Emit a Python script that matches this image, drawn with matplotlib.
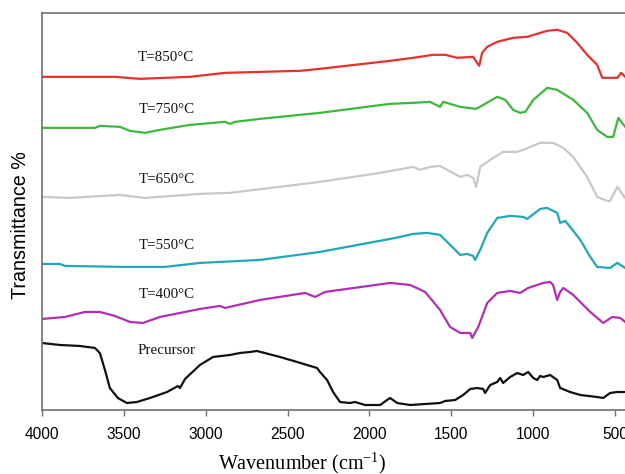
#!/usr/bin/env python3
"""FTIR spectra of the precursor and samples calcined at 400-850 °C (stacked)."""
import matplotlib
matplotlib.use("Agg")
import matplotlib.pyplot as plt

# ─── Data (wavenumber in cm-1, stacked transmittance in arbitrary units) ──
W_850 = [4000, 3554, 3401, 3096, 2882, 2424, 2302, 1874, 1734, 1611, 1538, 1465,
         1367, 1330, 1312, 1281, 1220, 1123, 1037, 976, 915, 854, 793, 732, 671,
         610, 579, 487, 463, 439]
T_850 = [333, 333, 331, 333, 337, 339, 341, 349, 352, 355, 355, 352,
         353, 344, 357, 363, 368, 372, 373, 376, 379, 380, 377, 367, 355,
         345, 332, 332, 337, 333]

W_750 = [4000, 3676, 3646, 3524, 3462, 3371, 3279, 3096, 2882, 2852, 2821, 2668,
         2302, 1874, 1734, 1630, 1569, 1550, 1446, 1355, 1336, 1263, 1220, 1171,
         1123, 1080, 1049, 1000, 915, 854, 756, 671, 610, 549, 512, 481, 439]
T_750 = [282, 282, 284, 283, 279, 277, 280, 285, 288, 286, 288, 291,
         297, 306, 307, 308, 303, 308, 303, 301, 302, 309, 313, 310,
         300, 297, 298, 310, 322, 320, 310, 297, 280, 273, 273, 292, 283]

W_650 = [4000, 3829, 3524, 3371, 3035, 2852, 2302, 1935, 1734, 1691, 1630, 1569,
         1526, 1446, 1404, 1367, 1349, 1324, 1263, 1184, 1098, 1062, 958, 879,
         817, 756, 671, 610, 549, 531, 487, 439]
T_650 = [213, 212, 215, 212, 216, 217, 228, 237, 243, 240, 243, 244,
         240, 233, 235, 232, 223, 243, 250, 258, 258, 260, 267, 267,
         262, 253, 233, 213, 209, 209, 223, 212]

W_550 = [4000, 3890, 3859, 3493, 3249, 3035, 2668, 2302, 1874, 1813, 1734, 1648,
         1569, 1489, 1446, 1404, 1367, 1355, 1324, 1281, 1220, 1141, 1062, 1037,
         958, 915, 854, 836, 805, 775, 713, 652, 610, 531, 487, 439]
T_550 = [146, 146, 144, 143, 143, 147, 150, 158, 171, 173, 176, 177,
         175, 162, 155, 156, 154, 150, 160, 177, 192, 194, 193, 191,
         201, 202, 197, 187, 189, 183, 170, 153, 143, 142, 147, 142]

W_400 = [4000, 3859, 3737, 3646, 3554, 3462, 3383, 3279, 3035, 2913, 2882, 2668,
         2393, 2332, 2271, 1874, 1752, 1660, 1569, 1508, 1446, 1385, 1373, 1336,
         1281, 1220, 1141, 1080, 1031, 939, 897, 879, 854, 836, 817, 756, 652,
         573, 518, 469, 439]
T_400 = [91, 93, 98, 98, 94, 88, 87, 93, 101, 104, 102, 110,
         117, 113, 118, 127, 125, 118, 100, 83, 77, 77, 72, 83,
         107, 117, 119, 117, 122, 127, 128, 125, 110, 118, 122, 115, 98,
         87, 93, 92, 88]

W_PRE = [4000, 3890, 3768, 3676, 3646, 3615, 3585, 3536, 3481, 3420, 3340, 3236,
         3169, 3157, 3126, 3035, 2955, 2852, 2790, 2729, 2687, 2546, 2442, 2320,
         2302, 2259, 2222, 2180, 2118, 2088, 2027, 1935, 1893, 1874, 1831, 1752,
         1569, 1538, 1477, 1428, 1385, 1343, 1306, 1294, 1263, 1220, 1202, 1184,
         1141, 1098, 1062, 1031, 1000, 976, 958, 939, 897, 854, 836, 775, 713,
         610, 573, 531, 487, 439]
T_PRE = [67, 65, 64, 62, 57, 40, 22, 12, 7, 8, 12, 18,
         24, 22, 31, 45, 53, 55, 57, 58, 59, 53, 48, 42,
         38, 30, 18, 8, 7, 8, 5, 5, 10, 12, 7, 5,
         7, 9, 10, 15, 21, 22, 21, 17, 25, 28, 32, 27,
         33, 37, 35, 38, 32, 30, 34, 33, 35, 30, 22, 18, 15,
         13, 12, 17, 18, 18]

SERIES = [
    (W_850, T_850, "#e8302c", "T=850°C", 352),
    (W_750, T_750, "#3cb93c", "T=750°C", 300),
    (W_650, T_650, "#c8c8c8", "T=650°C", 230),
    (W_550, T_550, "#1ea8b8", "T=550°C", 164),
    (W_400, T_400, "#b32eb3", "T=400°C", 115),
    (W_PRE, T_PRE, "#111111", "Precursor", 59),
]
XTICKS = [4000, 3500, 3000, 2500, 2000, 1500, 1000, 500]
LABEL_X = 3240
SPINE = "#707070"


def main() -> None:
    fig = plt.figure(figsize=(6.25, 4.74), dpi=100)
    ax = fig.add_axes([0.067, 0.135, 0.933, 0.838])

    for w, t, color, label, ly in SERIES:
        ax.plot(w, t, color=color, lw=1.6, solid_joinstyle="round")
        ax.text(LABEL_X, ly, label, ha="center", va="center",
                family="Liberation Serif", fontsize=10.8, color="#111111")

    ax.set_xlim(4000, 440)
    ax.set_ylim(0, 397)
    ax.set_xticks(XTICKS)
    ax.set_xticklabels([str(v) for v in XTICKS], family="Liberation Sans",
                       fontsize=11.2)
    ax.set_yticks([])
    ax.tick_params(axis="x", direction="out", length=4, width=1, color=SPINE,
                   pad=8)
    for side in ("left", "top", "bottom"):
        ax.spines[side].set_color(SPINE)
        ax.spines[side].set_linewidth(1.2)
    ax.spines["right"].set_visible(False)

    ax.set_xlabel(r"Wavenumber (cm$^{\mathregular{-1}}$)",
                  family="Liberation Serif", fontsize=14.5)
    ax.xaxis.set_label_coords(0.446, -0.102)
    ax.set_ylabel("Transmittance %", family="Liberation Sans", fontsize=14.2)
    ax.yaxis.set_label_coords(-0.02, 0.465)

    fig.savefig("out.png", dpi=100)


if __name__ == "__main__":
    main()
